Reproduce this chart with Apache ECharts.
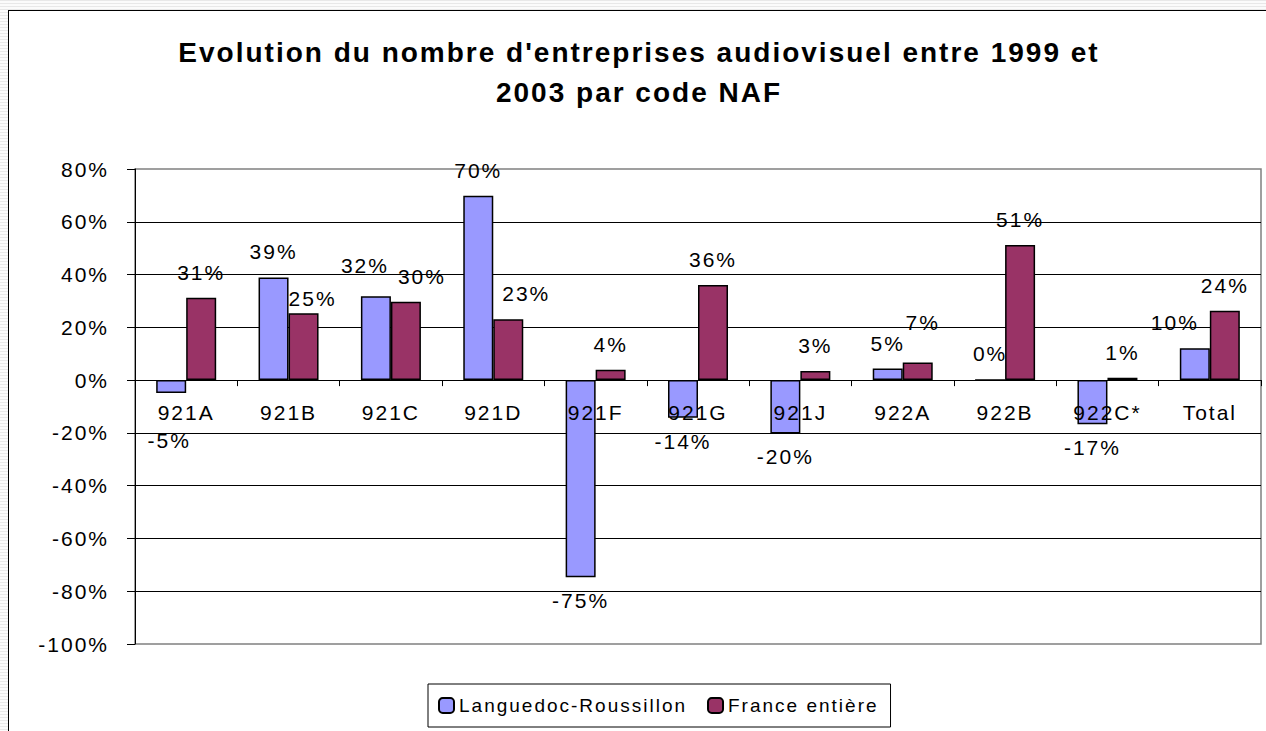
<!DOCTYPE html>
<html>
<head>
<meta charset="utf-8">
<script src="https://cdn.jsdelivr.net/npm/echarts@6/dist/echarts.min.js"></script>
<style>
    html, body { margin: 0; padding: 0; background: #fff; }
    body {
        width: 1266px; height: 731px; overflow: hidden; position: relative;
        background: repeating-linear-gradient(to bottom, #e8e8e8 0px, #e8e8e8 1px, #fbfbfb 1px, #fbfbfb 3px);
    }
    #frame {
        position: absolute; left: 8px; top: 10px; width: 1266px; height: 731px;
        background: #fff; border-left: 1px solid #000; border-top: 1px solid #000;
    }
    #main { position: absolute; left: 0; top: 0; width: 1266px; height: 731px; }
    /* the Excel original spaces its letters out */
    #main text { letter-spacing: 2px; }
</style>
</head>
<body>
<div id="frame"></div>
<div id="main"></div>
<script>
// codes NAF
var categories = ['921A', '921B', '921C', '921D', '921F', '921G', '921J', '922A', '922B', '922C*', 'Total'];
// hauteurs des barres (en %)
var lrValues = [-4.9, 38.9, 31.8, 69.9, -74.7, -14.3, -20.2, 4.4, 0, -16.7, 12.1];
var frValues = [31.2, 25.3, 29.7, 23.1, 3.9, 36.0, 3.5, 6.7, 51.2, 0.9, 26.3];
// etiquettes affichees
var lrLabels = ['-5%', '39%', '32%', '70%', '-75%', '-14%', '-20%', '5%', '0%', '-17%', '10%'];
var frLabels = ['31%', '25%', '30%', '23%', '4%', '36%', '3%', '7%', '51%', '1%', '24%'];
var yTicks = [-100, -80, -60, -40, -20, 0, 20, 40, 60, 80];

var font = 'Liberation Sans';

// petits decalages des etiquettes, comme Excel les a places
var lrNudge = {0: [-2, 24], 2: [-11, -5], 10: [-20, 0]};
var frNudge = {1: [9, 11], 2: [16, 0], 3: [18, 0], 7: [5, -14]};

function makeData(values, labels, nudge) {
    return values.map(function (v, i) {
        var lab = {
            position: v < 0 ? 'bottom' : 'top',
            distance: v < 0 ? 13 : 15,
            formatter: labels[i]
        };
        if (nudge[i]) lab.offset = nudge[i];
        return {value: v, label: lab};
    });
}

var dom = document.getElementById('main');
var myChart = echarts.init(dom, null, {renderer: 'svg'});

var gridTop = 169, gridBottom = 87;
var plotH = 731 - gridTop - gridBottom;
var yMin = yTicks[0], yMax = yTicks[yTicks.length - 1];
// l'axe des categories passe par 0 %
var zeroOffset = -plotH * (0 - yMin) / (yMax - yMin);

var option = {
    backgroundColor: 'transparent',
    animation: false,
    title: {
        text: 'Evolution du nombre d\'entreprises audiovisuel entre 1999 et\n2003 par code NAF',
        left: 639,
        top: 32,
        padding: 0,
        textAlign: 'center',
        textStyle: {
            fontFamily: font,
            fontSize: 28,
            fontWeight: 'bold',
            color: '#000',
            lineHeight: 40
        }
    },
    legend: {
        left: 428,
        top: 684,
        padding: [12, 40, 12, 10],
        itemGap: 60,
        itemWidth: 15,
        itemHeight: 15,
        borderColor: '#000',
        borderWidth: 1,
        selectedMode: false,
        textStyle: {fontFamily: font, fontSize: 19, color: '#000'},
        data: ['Languedoc-Roussillon', 'France entière']
    },
    grid: {
        left: 135,
        top: gridTop,
        right: 5,
        bottom: gridBottom,
        show: true,
        borderColor: '#808080',
        borderWidth: 1.5
    },
    xAxis: {
        type: 'category',
        data: categories,
        z: 10,
        offset: zeroOffset,
        axisLine: {onZero: false, lineStyle: {color: '#000', width: 1}},
        axisTick: {show: true, alignWithLabel: false, length: 6, lineStyle: {color: '#000'}},
        axisLabel: {
            margin: 22,
            fontFamily: font,
            fontSize: 21,
            color: '#000'
        },
        splitLine: {show: false}
    },
    yAxis: {
        type: 'value',
        min: yMin,
        max: yMax,
        interval: 20,
        axisLine: {show: true, lineStyle: {color: '#000', width: 1}},
        axisTick: {show: true, length: 8, lineStyle: {color: '#000'}},
        axisLabel: {
            margin: 26,
            fontFamily: font,
            fontSize: 21,
            color: '#000',
            formatter: '{value}%'
        },
        splitLine: {
            show: true,
            showMinLine: false,
            showMaxLine: false,
            lineStyle: {color: '#000', width: 1}
        }
    },
    series: [
        {
            name: 'Languedoc-Roussillon',
            type: 'bar',
            barWidth: 30,
            barGap: '0%',
            itemStyle: {color: '#9999FF', borderColor: '#000', borderWidth: 1.5},
            label: {show: true, fontFamily: font, fontSize: 21, color: '#000'},
            data: makeData(lrValues, lrLabels, lrNudge)
        },
        {
            name: 'France entière',
            type: 'bar',
            barWidth: 30,
            barGap: '0%',
            itemStyle: {color: '#993366', borderColor: '#000', borderWidth: 1.5},
            label: {show: true, fontFamily: font, fontSize: 21, color: '#000'},
            data: makeData(frValues, frLabels, frNudge)
        }
    ]
};

if (option && typeof option === 'object') {
    myChart.setOption(option, true);
}
</script>
</body>
</html>
